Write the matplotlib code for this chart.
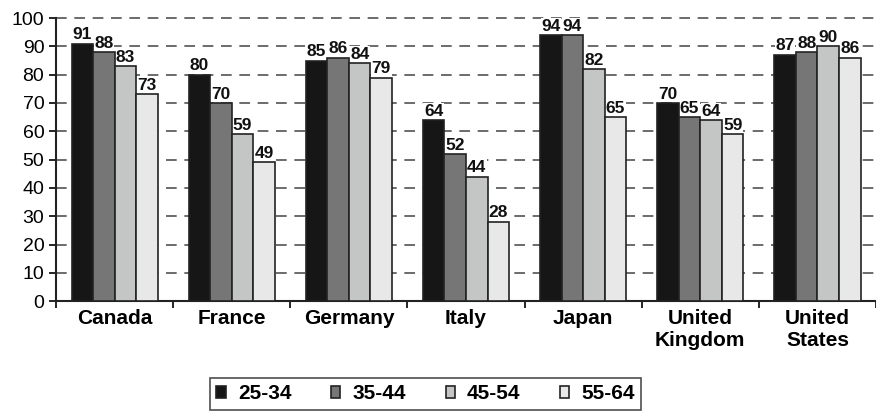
import numpy as np
import matplotlib
matplotlib.use("Agg")
import matplotlib.pyplot as plt

plt.rcParams["font.family"] = ["Liberation Sans", "DejaVu Sans"]

# --- Data ---
countries = ["Canada", "France", "Germany", "Italy", "Japan",
             "United\nKingdom", "United\nStates"]
age_groups = ["25-34", "35-44", "45-54", "55-64"]
age_25_34 = [91, 80, 85, 64, 94, 70, 87]
age_35_44 = [88, 70, 86, 52, 94, 65, 88]
age_45_54 = [83, 59, 84, 44, 82, 64, 90]
age_55_64 = [73, 49, 79, 28, 65, 59, 86]
series = [age_25_34, age_35_44, age_45_54, age_55_64]
colors = ["#161616", "#767676", "#c4c6c5", "#e8e8e8"]

# --- Plot ---
fig = plt.figure(figsize=(8.76, 4.2), dpi=100)
ax = fig.add_axes([0.064, 0.283, 0.936, 0.674])

x = np.arange(len(countries))
width = 0.184
for i, (vals, col, lab) in enumerate(zip(series, colors, age_groups)):
    pos = x + (i - 1.5) * width
    bars = ax.bar(pos, vals, width, color=col, edgecolor="#222222",
                  linewidth=1.2, label=lab, zorder=3)
    # value labels sit on a white patch that hides the dashed lines
    for b, v in zip(bars, vals):
        ax.text(b.get_x() + b.get_width() / 2, v + 0.5, str(v),
                ha="center", va="bottom", fontsize=12.5, fontweight="bold",
                color="#111111", zorder=2.5,
                bbox=dict(facecolor="white", edgecolor="none", pad=0.5))

ax.set_xlim(-0.5, len(countries) - 0.5)
ax.set_ylim(0, 100)
ax.set_yticks(range(0, 101, 10))
ax.tick_params(axis="y", labelsize=14, length=5, width=1.2, direction="out")

# dashed horizontal lines at each y tick (behind the bars)
for yv in ax.get_yticks()[1:]:
    ax.axhline(yv, linestyle=(0, (7, 5)), color="#444444", linewidth=1.1,
               zorder=1, clip_on=False)

# category labels in the middle, tick marks on the boundaries
ax.set_xticks(x)
ax.set_xticklabels(countries, fontsize=15, fontweight="bold", linespacing=1.2)
ax.tick_params(axis="x", length=0, pad=6)
ax.set_xticks(np.arange(-0.5, len(countries)), minor=True)
ax.tick_params(axis="x", which="minor", length=5, width=1.2, direction="out")

for s in ["top", "right"]:
    ax.spines[s].set_visible(False)
for s in ["left", "bottom"]:
    ax.spines[s].set_linewidth(1.5)
    ax.spines[s].set_color("#222222")

leg = fig.legend(loc="center", bbox_to_anchor=(0.486, 0.062), ncol=4,
                 frameon=True, fancybox=False, edgecolor="#222222",
                 prop={"size": 15, "weight": "bold"}, handlelength=0.45,
                 handleheight=0.45, columnspacing=1.9, handletextpad=0.58,
                 borderpad=0.3, borderaxespad=0)
leg.get_frame().set_linewidth(1.2)

fig.savefig("out.png", dpi=100)
plt.close(fig)
